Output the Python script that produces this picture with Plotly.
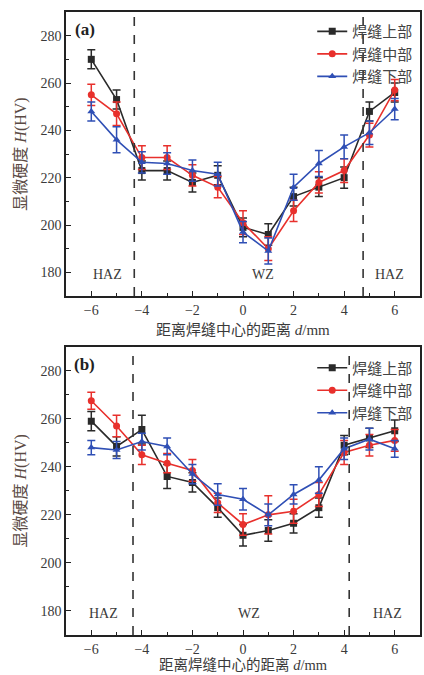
import plotly.graph_objects as go

# ---------------- data ----------------
x_pos = [-6, -5, -4, -3, -2, -1, 0, 1, 2, 3, 4, 5, 6]
series_names = ["焊缝上部", "焊缝中部", "焊缝下部"]

# panel (a)
a_top = [270, 253, 223, 223, 218, 221, 199, 196, 212, 216, 220, 248, 256]
a_top_err = [4, 4, 4, 4, 4, 4, 4, 4.5, 4, 4, 4.5, 4, 4]
a_mid = [255, 247, 228.5, 228.5, 221, 216, 201, 190, 206, 218, 223, 238, 257]
a_mid_err = [4.5, 5, 5, 5, 4.5, 4.5, 5, 5, 4.5, 4.5, 5, 5, 4.5]
a_bot = [248, 236, 226.5, 226, 223, 221.5, 197, 189, 216, 226, 233, 239, 249]
a_bot_err = [4, 5.5, 4.5, 4.5, 4.5, 5, 4.5, 5.5, 5.5, 5.5, 5, 5, 4.5]

# panel (b)
b_top = [259, 248.5, 255.5, 236, 233.5, 223, 211.5, 213.5, 216.5, 223, 249, 252, 255]
b_top_err = [4, 4, 6, 5, 4, 4, 4.5, 4.5, 4, 4, 4, 4, 4.5]
b_mid = [267.5, 257, 245, 241.5, 238.5, 225, 216, 220, 221.5, 228.5, 246, 249, 251]
b_mid_err = [3.5, 4.5, 4, 4, 4.5, 4, 4.5, 8, 5, 5, 5, 4.5, 4.5]
b_bot = [248, 247, 250.5, 248.5, 237, 228.5, 226.5, 220, 228.5, 234.5, 247.5, 251.5, 247.5]
b_bot_err = [3, 3.5, 3.5, 3.5, 4, 4.5, 4.5, 4.5, 4, 5.5, 4.5, 4.5, 3.5]

# region labels
region_a_x = [-5.35, 0.8, 5.8]
region_b_x = [-5.5, 0.25, 5.7]
region_text = ["HAZ", "WZ", "HAZ"]
divider_a = [-4.3, 4.75]
divider_b = [-4.35, 4.2]

y_ticks = [180, 200, 220, 240, 260, 280]
x_ticks = [-6, -4, -2, 0, 2, 4, 6]

# ---------------- style ----------------
colors = ["#2a2a2a", "#e8302c", "#2f4fb5"]
symbols = ["square", "circle", "triangle-up"]
SERIF = "Liberation Serif, Times New Roman, Noto Sans CJK SC"
TXT = "#3a3a3a"

fig = go.Figure()

panels = [
    ("x", "y", "legend", [a_top, a_mid, a_bot], [a_top_err, a_mid_err, a_bot_err]),
    ("x2", "y2", "legend2", [b_top, b_mid, b_bot], [b_top_err, b_mid_err, b_bot_err]),
]
for xa, ya, lg, vals, errs in panels:
    for i in range(3):
        fig.add_trace(go.Scatter(
            x=x_pos, y=vals[i], name=series_names[i], xaxis=xa, yaxis=ya, legend=lg,
            mode="lines+markers",
            line=dict(color=colors[i], width=1.6),
            marker=dict(symbol=symbols[i], size=7, color=colors[i]),
            error_y=dict(type="data", array=errs[i], visible=True,
                         color=colors[i], thickness=1.5, width=4),
        ))

axis_common = dict(
    range=[-7, 7], tickvals=x_ticks, ticks="inside", ticklen=5, tickwidth=1.3,
    tickcolor="#222", showline=True, linecolor="#222", linewidth=1.6, mirror=True,
    showgrid=False, zeroline=False,
    tickfont=dict(family=SERIF, size=14, color=TXT),
    minor=dict(dtick=1, ticks="inside", ticklen=3, tickcolor="#222", tickwidth=1.2),
)
yaxis_common = dict(
    range=[170, 290], tickvals=y_ticks, ticks="inside", ticklen=5, tickwidth=1.3,
    tickcolor="#222", showline=True, linecolor="#222", linewidth=1.6, mirror=True,
    showgrid=False, zeroline=False,
    tickfont=dict(family=SERIF, size=14, color=TXT),
    minor=dict(tickvals=[190, 210, 230, 250, 270], ticks="inside", ticklen=3,
               tickcolor="#222", tickwidth=1.2),
)

top_dom = [0.5441, 1.0]
bot_dom = [0.0, 0.4628]

fig.update_layout(
    width=424, height=675,
    margin=dict(l=66, r=2, t=12, b=40),
    paper_bgcolor="white", plot_bgcolor="white",
    xaxis=dict(axis_common, anchor="y"),
    yaxis=dict(yaxis_common, domain=top_dom, anchor="x"),
    xaxis2=dict(axis_common, anchor="y2"),
    yaxis2=dict(yaxis_common, domain=bot_dom, anchor="x2"),
    legend=dict(x=0.995, xanchor="right", y=0.995, yanchor="top",
                bgcolor="rgba(0,0,0,0)", tracegroupgap=0,
                font=dict(family="Noto Sans CJK SC", size=15, color="#444")),
    legend2=dict(x=0.995, xanchor="right", y=0.455, yanchor="top",
                 bgcolor="rgba(0,0,0,0)", tracegroupgap=0,
                 font=dict(family="Noto Sans CJK SC", size=15, color="#444")),
    showlegend=True,
)

annotations = []
shapes = []
for xa, ya, dom, rx, dv, lab in [("x", "y", top_dom, region_a_x, divider_a, "(a)"),
                                 ("x2", "y2", bot_dom, region_b_x, divider_b, "(b)")]:
    for xv, t in zip(rx, region_text):
        annotations.append(dict(x=xv, y=179, xref=xa, yref=ya, text=t, showarrow=False,
                                font=dict(family=SERIF, size=14, color=TXT)))
    for d in dv:
        shapes.append(dict(type="line", xref=xa, yref=ya + " domain", x0=d, x1=d, y0=0, y1=1,
                           line=dict(color="#333", width=1.6, dash="dash")))
    annotations.append(dict(x=-6.25, y=282.5, xref=xa, yref=ya, text="<b>" + lab + "</b>",
                            showarrow=False, font=dict(family=SERIF, size=17, color="#222")))
    # y title
    annotations.append(dict(x=-0.128, y=(dom[0] + dom[1]) / 2, xref="paper", yref="paper",
                            text="显微硬度 <i>H</i>(HV)", textangle=-90, showarrow=False,
                            xanchor="center", yanchor="middle",
                            font=dict(family=SERIF, size=16, color="#5a4a44")))

# x titles
annotations.append(dict(x=0.5, y=top_dom[0], xref="paper", yref="paper", yshift=-34,
                        text="距离焊缝中心的距离 <i>d</i>/mm", showarrow=False,
                        xanchor="center", yanchor="middle",
                        font=dict(family=SERIF, size=15, color=TXT)))
annotations.append(dict(x=0.5, y=bot_dom[0], xref="paper", yref="paper", yshift=-30,
                        text="距离焊缝中心的距离 <i>d</i>/mm", showarrow=False,
                        xanchor="center", yanchor="middle", borderpad=0,
                        font=dict(family=SERIF, size=14.5, color=TXT)))

fig.update_layout(annotations=annotations, shapes=shapes)
fig.write_html("out.html", config={"displayModeBar": False},
               post_script="document.body.style.margin='0';document.body.style.overflow='hidden';")
